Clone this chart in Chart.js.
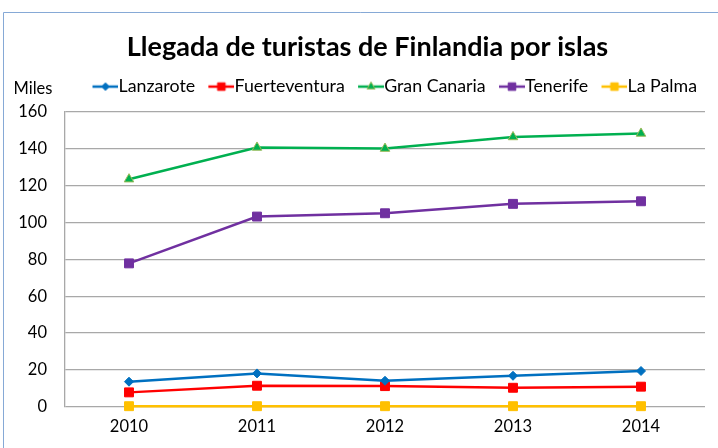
<!DOCTYPE html>
<html>
<head>
<meta charset="utf-8">
<script src="https://cdn.jsdelivr.net/npm/chart.js@4.4.1/dist/chart.umd.min.js"></script>
<style>
  html, body { margin: 0; padding: 0; background: #fff; }
</style>
</head>
<body>
<canvas id="chart" width="718" height="448"></canvas>
<script>
// datos (miles de turistas)
const years = ['2010', '2011', '2012', '2013', '2014'];
const lanzarote = [13.6, 18.1, 14.1, 16.8, 19.4];
const fuerteventura = [7.8, 11.4, 11.2, 10.3, 10.9];
const granCanaria = [123.5, 140.7, 140.1, 146.4, 148.3];
const tenerife = [77.8, 103.2, 105.0, 110.1, 111.5];
const laPalma = [0.3, 0.3, 0.3, 0.3, 0.3];
const yMin = 0, yMax = 160, yStep = 20;

const FONT = 'Lato, "Open Sans", sans-serif';
const LEGEND_FS = 17.8;
const ICON_BOX = 20.5;

const series = [
  { label: 'Lanzarote', data: lanzarote, color: '#0070C0', border: '#0070C0', style: 'rectRot', radius: 4.5 },
  { label: 'Fuerteventura', data: fuerteventura, color: '#FF0000', border: '#FF0000', style: 'rect', radius: 6.3 },
  { label: 'Gran Canaria', data: granCanaria, color: '#00B050', border: '#9BBB59', style: 'triangle', radius: 5.5 },
  { label: 'Tenerife', data: tenerife, color: '#7030A0', border: '#7030A0', style: 'rect', radius: 6.3 },
  { label: 'La Palma', data: laPalma, color: '#FFC000', border: '#FFC000', style: 'rect', radius: 6.3 }
];

// iconos de la leyenda: línea con marcador en el centro (parte izquierda transparente)
function makeIcon(s) {
  const w = Math.round(ICON_BOX + LEGEND_FS);
  const c = document.createElement('canvas');
  c.width = w; c.height = 14;
  const ctx = c.getContext('2d');
  const x0 = w - 26;
  ctx.strokeStyle = s.color;
  ctx.lineWidth = 2.5;
  ctx.beginPath();
  ctx.moveTo(x0, 7);
  ctx.lineTo(w, 7);
  ctx.stroke();
  ctx.fillStyle = s.color;
  ctx.strokeStyle = s.border;
  ctx.lineWidth = 1;
  Chart.helpers.drawPoint(ctx, { pointStyle: s.style, radius: s.radius * 0.85, rotation: 0, borderWidth: 1 }, x0 + 13, 7);
  return c;
}
const icons = series.map(makeIcon);

const decor = {
  id: 'decor',
  afterLayout(chart) {
    // el título de Excel está centrado en el gráfico completo (recortado a la derecha)
    if (chart.titleBlock) { chart.titleBlock.left += 15; chart.titleBlock.right += 15; }
    if (chart.legend) { chart.legend.left += 2; chart.legend.right += 2; }
  },
  beforeDraw(chart) {
    const ctx = chart.ctx;
    ctx.save();
    ctx.fillStyle = '#fff';
    ctx.fillRect(0, 0, chart.width, chart.height);
    ctx.strokeStyle = '#86A9D6';
    ctx.lineWidth = 1;
    ctx.beginPath();
    ctx.moveTo(3.5, chart.height);
    ctx.lineTo(3.5, 12.5);
    ctx.lineTo(chart.width, 12.5);
    ctx.stroke();
    ctx.restore();
  },
  afterDraw(chart) {
    const ctx = chart.ctx;
    ctx.save();
    ctx.fillStyle = '#000';
    ctx.font = '16.5px ' + FONT;
    ctx.textAlign = 'center';
    ctx.textBaseline = 'middle';
    ctx.fillText('Miles', 33, 89);
    ctx.restore();
  }
};

new Chart(document.getElementById('chart'), {
  type: 'line',
  data: {
    labels: years,
    datasets: series.map(s => ({
      label: s.label,
      data: s.data,
      borderColor: s.color,
      backgroundColor: s.color,
      pointBackgroundColor: s.color,
      pointBorderColor: s.border,
      pointBorderWidth: 1,
      pointStyle: s.style,
      pointRadius: s.radius,
      pointHoverRadius: s.radius,
      borderWidth: 2.5,
      tension: 0,
      fill: false,
      clip: false
    }))
  },
  options: {
    responsive: false,
    animation: false,
    events: [],
    layout: { padding: { left: 0, right: 13, top: 0, bottom: 1.4 } },
    plugins: {
      title: {
        display: true,
        text: 'Llegada de turistas de Finlandia por islas',
        color: '#000',
        font: { family: FONT, size: 27, weight: 'bold' },
        padding: { top: 30.8, bottom: 4.5 }
      },
      // espacio vacío entre la leyenda y el área de trazado
      subtitle: {
        display: true,
        text: '',
        weight: 1500,
        font: { size: 1, lineHeight: 1 },
        padding: { top: 0, bottom: 5.4 }
      },
      legend: {
        display: true,
        position: 'top',
        align: 'end',
        weight: 1800,
        labels: {
          color: '#000',
          font: { family: FONT, size: LEGEND_FS },
          usePointStyle: true,
          pointStyleWidth: ICON_BOX,
          padding: 10,
          generateLabels(chart) {
            const items = Chart.defaults.plugins.legend.labels.generateLabels(chart);
            items.forEach((it, i) => { it.pointStyle = icons[i]; });
            return items;
          }
        }
      },
      tooltip: { enabled: false }
    },
    scales: {
      x: {
        offset: true,
        grid: { display: false, drawTicks: false },
        border: { display: false },
        ticks: { color: '#000', font: { family: FONT, size: 16.5, lineHeight: 0.5 }, padding: 15.8, maxRotation: 0 }
      },
      y: {
        min: yMin,
        max: yMax,
        afterFit(scale) { scale.width = 65; },
        grid: { color: '#A8A8A8', lineWidth: 1.3, drawTicks: false },
        border: { display: true, color: '#A8A8A8', width: 1.3 },
        ticks: { stepSize: yStep, color: '#000', font: { family: FONT, size: 16.5 }, padding: 18 }
      }
    }
  },
  plugins: [decor]
});
</script>
</body>
</html>
